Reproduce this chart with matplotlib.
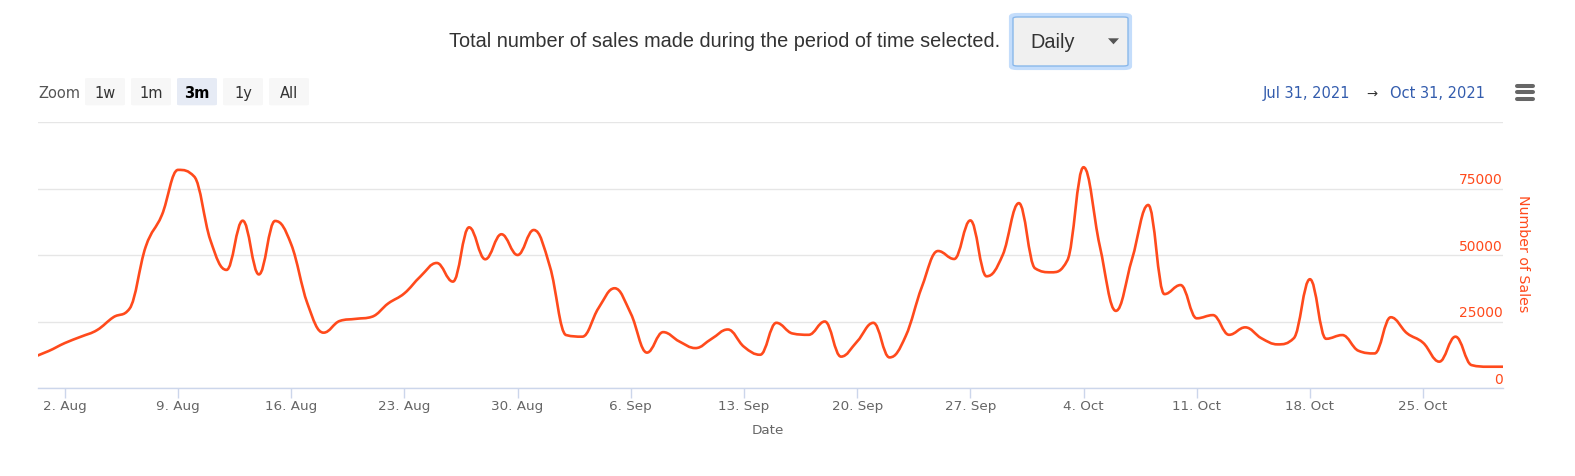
import numpy as np
import pandas as pd
import matplotlib
matplotlib.use('Agg')
import matplotlib.pyplot as plt
import matplotlib.dates as mdates
from matplotlib.path import Path
from matplotlib.patches import PathPatch, FancyBboxPatch, Polygon
from matplotlib.lines import Line2D

#-----------------------------------Data---------------------------------------

dates = pd.date_range('2021-07-31', '2021-10-30', freq='D')

sales_jul = [11500]
sales_aug = [13900, 16900, 19300, 21800, 26600, 29800, 53100, 65000, 82000, 79500,
             55600, 44400, 62900, 42700, 62800, 54000, 31800, 20800, 25200, 26000,
             26800, 31800, 35600, 42000, 47000, 40000, 60400, 48400, 57800, 50000, 59400]
sales_sep = [45600, 19900, 19300, 30000, 37500, 28000, 13300, 21000, 17500, 15000,
             18500, 22000, 15500, 12500, 24500, 20500, 20000, 25000, 11800, 17500,
             24500, 11500, 19500, 38000, 51500, 48500, 63000, 42000, 50000, 69500]
sales_oct = [45000, 43500, 48000, 83000, 53500, 29000, 48500, 68800, 35300, 38700,
             26200, 27400, 20000, 22800, 18700, 16400, 18700, 40900, 18500, 19900,
             14000, 13000, 26600, 20600, 17000, 9900, 19300, 8600, 8000, 8000]
sales = sales_jul + sales_aug + sales_sep + sales_oct

y_ticks = [0, 25000, 50000, 75000, 100000]
zoom_buttons = ['1w', '1m', '3m', '1y', 'All']
selected_button = '3m'
range_from = 'Jul 31, 2021'
range_to = 'Oct 31, 2021'

LINE_COLOR = '#ff4a1c'
W, H = 1575, 476

#-----------------------------------Functions----------------------------------

def px(x, y):
    # pixel position (from top left) -> figure fraction
    return x / W, 1 - y / H

def splinePath(xs, ys, smoothing=1.5):
    # cubic bezier path built the same way as a Highcharts "spline" series
    n = len(xs)
    denom = smoothing + 1
    lc = [(xs[i], ys[i]) for i in range(n)]
    rc = [(xs[i], ys[i]) for i in range(n)]
    for i in range(1, n - 1):
        x, y = xs[i], ys[i]
        lx, ly = xs[i - 1], ys[i - 1]
        nx, ny = xs[i + 1], ys[i + 1]
        lcx = (smoothing * x + lx) / denom
        lcy = (smoothing * y + ly) / denom
        rcx = (smoothing * x + nx) / denom
        rcy = (smoothing * y + ny) / denom
        corr = (rcy - lcy) * (rcx - x) / (rcx - lcx) + y - rcy
        lcy += corr
        rcy += corr
        if lcy > ly and lcy > y:
            lcy = max(ly, y); rcy = 2 * y - lcy
        elif lcy < ly and lcy < y:
            lcy = min(ly, y); rcy = 2 * y - lcy
        if rcy > ny and rcy > y:
            rcy = max(ny, y); lcy = 2 * y - rcy
        elif rcy < ny and rcy < y:
            rcy = min(ny, y); lcy = 2 * y - rcy
        lc[i] = (lcx, lcy)
        rc[i] = (rcx, rcy)
    verts = [(xs[0], ys[0])]
    codes = [Path.MOVETO]
    for i in range(1, n):
        verts += [rc[i - 1], lc[i], (xs[i], ys[i])]
        codes += [Path.CURVE4] * 3
    return Path(verts, codes)

def figBox(x0, y0, x1, y1, face, edge='none', lw=0, rounding=0.002):
    # rounded box given in pixels (top left origin)
    fx, fy = px(x0, y1)
    fig.patches.append(FancyBboxPatch((fx, fy), (x1 - x0) / W, (y1 - y0) / H,
                                      boxstyle='round,pad=0,rounding_size=%f' % rounding,
                                      transform=fig.transFigure, facecolor=face,
                                      edgecolor=edge, lw=lw))

#-----------------------------------Figure-------------------------------------

plt.rcParams['font.family'] = ['DejaVu Sans']
fig = plt.figure(figsize=(W / 100, H / 100), dpi=100)

l, b = px(38, 388)
r, t = px(1503, 122)
ax = fig.add_axes([l, b, r - l, t - b])

xnum = mdates.date2num(dates)
patch = PathPatch(splinePath(xnum, np.array(sales, dtype=float)), facecolor='none',
                  edgecolor=LINE_COLOR, lw=1.9, capstyle='round', joinstyle='round', zorder=3)
ax.add_patch(patch)

x0 = mdates.date2num(pd.Timestamp('2021-07-31')) + 0.34
x1 = mdates.date2num(pd.Timestamp('2021-10-29')) + 0.94
ax.set_xlim(x0, x1)
ax.set_ylim(0, 100000)

ax.set_yticks(y_ticks)
ax.grid(axis='y', color='#e6e6e6', lw=1)
ax.tick_params(axis='y', left=False, labelleft=False)
for v in y_ticks[:-1]:
    ax.text(1.0, v + 400, str(v), transform=ax.get_yaxis_transform(),
            ha='right', va='bottom', fontsize=10, color=LINE_COLOR)

ax.xaxis.set_major_locator(mdates.WeekdayLocator(byweekday=mdates.MO))
ax.xaxis.set_major_formatter(plt.FuncFormatter(
    lambda v, p: '%d. %s' % (mdates.num2date(v).day, mdates.num2date(v).strftime('%b'))))
ax.tick_params(axis='x', length=7.2, width=1, color='#ccd6eb', pad=1.5,
               labelsize=9.7, labelcolor='#666666')
for s in ['top', 'left', 'right']:
    ax.spines[s].set_visible(False)
ax.spines['bottom'].set_color('#ccd6eb')
ax.spines['bottom'].set_linewidth(1)

fig.text(*px(768, 431), 'Date', ha='center', va='center', fontsize=9.7, color='#666666')
fig.text(*px(1523, 254), 'Number of Sales', ha='center', va='center', rotation=270,
         fontsize=10.2, color=LINE_COLOR)

# header and dropdown
fig.text(*px(449, 47), 'Total number of sales made during the period of time selected.',
         ha='left', va='baseline', fontsize=14.3, color='#333333', family='Liberation Sans')
figBox(1011, 15, 1130, 68, 'none', '#c4ddfb', 3, 0.004)
figBox(1013, 17, 1128, 66, '#f0f0f0', '#8ab8ea', 1, 0.003)
fig.text(*px(1030, 47.5), 'Daily', ha='left', va='baseline', fontsize=14.3, color='#333333',
         family='Liberation Sans')
fig.patches.append(Polygon([px(1108, 38.3), px(1119, 38.3), px(1113.5, 44.3)], closed=True,
                           transform=fig.transFigure, facecolor='#555555', edgecolor='none'))

# range selector buttons
fig.text(*px(38.5, 98.5), 'Zoom', ha='left', va='baseline', fontsize=10.5, color='#555555')
bxs = [85, 131, 177, 223, 269]
for lab, xb in zip(zoom_buttons, bxs):
    sel = lab == selected_button
    figBox(xb, 78, xb + 40, 105.3, '#e6ebf5' if sel else '#f7f7f7')
    fig.text(*px(xb + 20, 98.5), lab, ha='center', va='baseline', fontsize=10.5,
             color='#000000' if sel else '#333333', fontweight='bold' if sel else 'normal')

# date range inputs
fig.text(*px(1262.5, 97.7), range_from, ha='left', va='baseline', fontsize=10.5, color='#335cad')
fig.text(*px(1372, 97.7), '→', ha='center', va='baseline', fontsize=9.5, color='#333333')
fig.text(*px(1390, 97.7), range_to, ha='left', va='baseline', fontsize=10.5, color='#335cad')

# menu icon
for yy in [85.7, 92.3, 99]:
    fig.lines.append(Line2D([1517 / W, 1533 / W], [1 - yy / H, 1 - yy / H],
                            transform=fig.transFigure, color='#666666', lw=2.9,
                            solid_capstyle='round'))

fig.savefig('out.png', dpi=100)
